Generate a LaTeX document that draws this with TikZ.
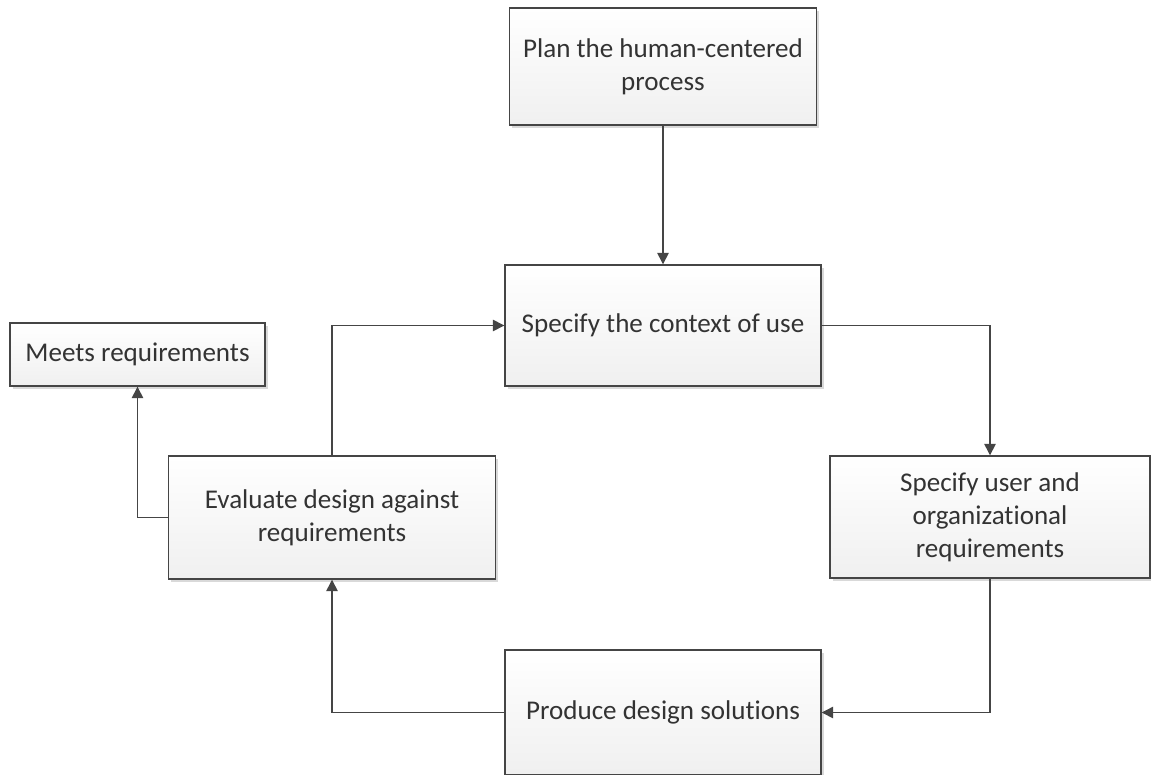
\documentclass[tikz,border=0pt]{standalone}
\usepackage{fontspec}
\setmainfont{Carlito}[Ligatures=NoCommon]
\usetikzlibrary{arrows.meta,shadows}
\definecolor{myline}{rgb}{0.27,0.27,0.27}
\definecolor{mytext}{rgb}{0.2,0.2,0.2}
\definecolor{myfill}{rgb}{0.94,0.94,0.94}
\begin{document}
\begin{tikzpicture}[x=0.02cm,y=-0.02cm,
    stepbox/.style={draw=myline,line width=0.8pt,top color=white,bottom color=myfill,
      drop shadow={shadow xshift=1.6pt,shadow yshift=-1.6pt,opacity=0.25,fill=black!60},
      align=center,text=mytext,inner sep=0pt,
      font=\fontsize{15.4pt}{18.7pt}\selectfont},
    flow/.style={draw=myline,line width=0.8pt,-{Triangle[length=6.5pt,width=6.5pt]}}]
  \useasboundingbox (0,0) rectangle (1151,774);
  \node[stepbox,minimum width=307*0.02cm,minimum height=117*0.02cm] (plan) at (663,66.5)
    {Plan the human-centered\\process};
  \node[stepbox,minimum width=316*0.02cm,minimum height=121*0.02cm] (context) at (663,325.5)
    {Specify the context of use};
  \node[stepbox,minimum width=255*0.02cm,minimum height=63*0.02cm] (meets) at (137.5,354.5)
    {Meets requirements};
  \node[stepbox,minimum width=327*0.02cm,minimum height=123*0.02cm] (evaluate) at (332,517.5)
    {Evaluate design against\\requirements};
  \node[stepbox,minimum width=320*0.02cm,minimum height=122*0.02cm] (userreq) at (990,517)
    {Specify user and\\organizational\\requirements};
  \node[stepbox,minimum width=316*0.02cm,minimum height=125*0.02cm] (produce) at (663,712.5)
    {Produce design solutions};
  % the loop
  \draw[flow] (plan) -- (context);
  \draw[flow] (context.east) -| (userreq.north);
  \draw[flow] (userreq.south) |- (produce.east);
  \draw[flow] (produce.west) -| (evaluate.south);
  \draw[flow] (evaluate.north) |- (context.west);
  \draw[flow] (evaluate.west) -| (meets.south);
\end{tikzpicture}
\end{document}
